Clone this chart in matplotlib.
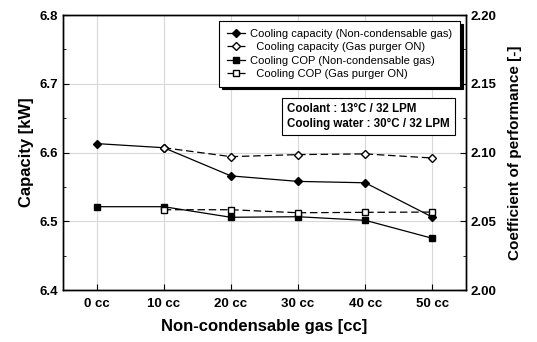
import matplotlib
matplotlib.use('Agg')
from matplotlib import pyplot as plt
from matplotlib.ticker import MultipleLocator

plt.rcParams['font.family'] = ['Liberation Sans', 'DejaVu Sans']

# data
gas = ['0 cc', '10 cc', '20 cc', '30 cc', '40 cc', '50 cc']
cap_ncg = [6.613, 6.607, 6.566, 6.558, 6.556, 6.506]
cap_purge = [None, 6.607, 6.594, 6.597, 6.598, 6.592]
cop_ncg = [2.0606, 2.0606, 2.0529, 2.0533, 2.0507, 2.0376]
cop_purge = [None, 2.0584, 2.0584, 2.0562, 2.0565, 2.0567]

x = list(range(len(gas)))
xp = x[1:]

fig = plt.figure(figsize=(5.37, 3.42), dpi=100)
ax = fig.add_axes([0.1173, 0.152, 0.7505, 0.804])
ax2 = ax.twinx()

h1, = ax.plot(x, cap_ncg, color='black', lw=0.9, marker='D', ms=3.8,
              label='Cooling capacity (Non-condensable gas)')
h2, = ax.plot(xp, cap_purge[1:], color='black', lw=0.9, ls=(0, (6, 3)), marker='D', ms=3.8,
              mfc='white', label='  Cooling capacity (Gas purger ON)')
h3, = ax2.plot(x, cop_ncg, color='black', lw=0.9, marker='s', ms=5,
               label='Cooling COP (Non-condensable gas)')
h4, = ax2.plot(xp, cop_purge[1:], color='black', lw=0.9, ls=(0, (6, 3)), marker='s', ms=5,
               mfc='white', label='  Cooling COP (Gas purger ON)')

ax.set_xlim(-0.5, 5.5)
ax.set_ylim(6.4, 6.8)
ax2.set_ylim(2.0, 2.2)
ax.set_xticks(x)
ax.set_xticklabels(gas)
ax.yaxis.set_major_locator(MultipleLocator(0.1))
ax.yaxis.set_minor_locator(MultipleLocator(0.05))
ax2.yaxis.set_major_locator(MultipleLocator(0.05))
ax2.yaxis.set_minor_locator(MultipleLocator(0.025))
ax2.set_yticklabels(['%.2f' % v for v in ax2.get_yticks()])

ax.grid(True, color='#d8d8d8', lw=0.8)
ax.set_axisbelow(True)

for a in (ax, ax2):
    a.tick_params(which='both', direction='in', labelsize=9.5)
    a.tick_params(which='major', length=4)
    a.tick_params(which='minor', length=2.5)
    for lab in a.get_xticklabels() + a.get_yticklabels():
        lab.set_fontweight('bold')
    for s in a.spines.values():
        s.set_linewidth(1.0)
ax.tick_params(axis='x', pad=6)

ax.set_xlabel('Non-condensable gas [cc]', fontsize=12, fontweight='bold', labelpad=6)
ax.set_ylabel('Capacity [kW]', fontsize=12, fontweight='bold')
ax2.set_ylabel('Coefficient of performance [-]', fontsize=11, fontweight='bold', labelpad=8)

leg = ax2.legend(handles=[h1, h2, h3, h4], loc='upper right', bbox_to_anchor=(0.985, 0.978),
                 fontsize=8, frameon=True, fancybox=False, edgecolor='black', framealpha=1,
                 handlelength=1.6, handletextpad=0.5, labelspacing=0.3, borderpad=0.7,
                 borderaxespad=0, shadow=dict(color='black', alpha=1, ox=2, oy=-2))
leg.get_frame().set_linewidth(0.8)

ax2.text(0.557, 0.63, 'Coolant : 13\u00b0C / 32 LPM\nCooling water : 30\u00b0C / 32 LPM',
         transform=ax2.transAxes, fontsize=8.3, fontweight='bold', va='center', ha='left',
         linespacing=1.3,
         bbox=dict(boxstyle='square,pad=0.45', fc='white', ec='black', lw=0.8))

fig.savefig('out.png', dpi=100)
